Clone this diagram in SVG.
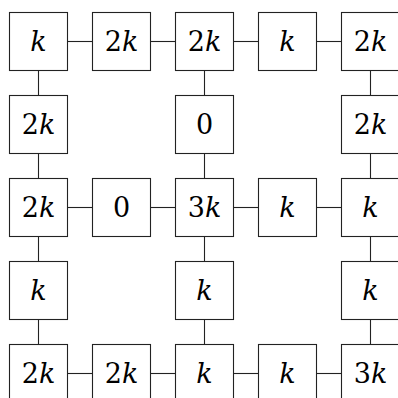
<svg xmlns="http://www.w3.org/2000/svg" width="398" height="398" viewBox="0 0 398 398">
<style>
.b{fill:#fff;stroke:#222;stroke-width:1.1}
line{stroke:#222;stroke-width:1.1}
text{font-family:'DejaVu Serif',serif;font-size:27px;text-anchor:middle;fill:#000}
.i{font-style:italic}
</style>
<rect width="398" height="398" fill="#fff"/>
<g id="connectors">
<line x1="67.5" y1="41.5" x2="92.5" y2="41.5"/>
<line x1="150.5" y1="41.5" x2="175.5" y2="41.5"/>
<line x1="233.5" y1="41.5" x2="258.5" y2="41.5"/>
<line x1="316.5" y1="41.5" x2="341.5" y2="41.5"/>
<line x1="67.5" y1="207.5" x2="92.5" y2="207.5"/>
<line x1="150.5" y1="207.5" x2="175.5" y2="207.5"/>
<line x1="233.5" y1="207.5" x2="258.5" y2="207.5"/>
<line x1="316.5" y1="207.5" x2="341.5" y2="207.5"/>
<line x1="67.5" y1="373.5" x2="92.5" y2="373.5"/>
<line x1="150.5" y1="373.5" x2="175.5" y2="373.5"/>
<line x1="233.5" y1="373.5" x2="258.5" y2="373.5"/>
<line x1="316.5" y1="373.5" x2="341.5" y2="373.5"/>
<line x1="38.5" y1="70.5" x2="38.5" y2="95.5"/>
<line x1="38.5" y1="153.5" x2="38.5" y2="178.5"/>
<line x1="38.5" y1="236.5" x2="38.5" y2="261.5"/>
<line x1="38.5" y1="319.5" x2="38.5" y2="344.5"/>
<line x1="204.5" y1="70.5" x2="204.5" y2="95.5"/>
<line x1="204.5" y1="153.5" x2="204.5" y2="178.5"/>
<line x1="204.5" y1="236.5" x2="204.5" y2="261.5"/>
<line x1="204.5" y1="319.5" x2="204.5" y2="344.5"/>
<line x1="370.5" y1="70.5" x2="370.5" y2="95.5"/>
<line x1="370.5" y1="153.5" x2="370.5" y2="178.5"/>
<line x1="370.5" y1="236.5" x2="370.5" y2="261.5"/>
<line x1="370.5" y1="319.5" x2="370.5" y2="344.5"/>
</g>
<g id="n00"><rect class="b" x="9.5" y="12.5" width="58" height="58"/><text x="38.5" y="50.5" class="i">k</text></g>
<g id="n01"><rect class="b" x="92.5" y="12.5" width="58" height="58"/><text x="121.5" y="50.5">2<tspan class="i">k</tspan></text></g>
<g id="n02"><rect class="b" x="175.5" y="12.5" width="58" height="58"/><text x="204.5" y="50.5">2<tspan class="i">k</tspan></text></g>
<g id="n03"><rect class="b" x="258.5" y="12.5" width="58" height="58"/><text x="287.5" y="50.5" class="i">k</text></g>
<g id="n04"><rect class="b" x="341.5" y="12.5" width="58" height="58"/><text x="370.5" y="50.5">2<tspan class="i">k</tspan></text></g>
<g id="n10"><rect class="b" x="9.5" y="95.5" width="58" height="58"/><text x="38.5" y="133.5">2<tspan class="i">k</tspan></text></g>
<g id="n12"><rect class="b" x="175.5" y="95.5" width="58" height="58"/><text x="204.5" y="133.5">0</text></g>
<g id="n14"><rect class="b" x="341.5" y="95.5" width="58" height="58"/><text x="370.5" y="133.5">2<tspan class="i">k</tspan></text></g>
<g id="n20"><rect class="b" x="9.5" y="178.5" width="58" height="58"/><text x="38.5" y="216.5">2<tspan class="i">k</tspan></text></g>
<g id="n21"><rect class="b" x="92.5" y="178.5" width="58" height="58"/><text x="121.5" y="216.5">0</text></g>
<g id="n22"><rect class="b" x="175.5" y="178.5" width="58" height="58"/><text x="204.5" y="216.5">3<tspan class="i">k</tspan></text></g>
<g id="n23"><rect class="b" x="258.5" y="178.5" width="58" height="58"/><text x="287.5" y="216.5" class="i">k</text></g>
<g id="n24"><rect class="b" x="341.5" y="178.5" width="58" height="58"/><text x="370.5" y="216.5" class="i">k</text></g>
<g id="n30"><rect class="b" x="9.5" y="261.5" width="58" height="58"/><text x="38.5" y="299.5" class="i">k</text></g>
<g id="n32"><rect class="b" x="175.5" y="261.5" width="58" height="58"/><text x="204.5" y="299.5" class="i">k</text></g>
<g id="n34"><rect class="b" x="341.5" y="261.5" width="58" height="58"/><text x="370.5" y="299.5" class="i">k</text></g>
<g id="n40"><rect class="b" x="9.5" y="344.5" width="58" height="58"/><text x="38.5" y="382.5">2<tspan class="i">k</tspan></text></g>
<g id="n41"><rect class="b" x="92.5" y="344.5" width="58" height="58"/><text x="121.5" y="382.5">2<tspan class="i">k</tspan></text></g>
<g id="n42"><rect class="b" x="175.5" y="344.5" width="58" height="58"/><text x="204.5" y="382.5" class="i">k</text></g>
<g id="n43"><rect class="b" x="258.5" y="344.5" width="58" height="58"/><text x="287.5" y="382.5" class="i">k</text></g>
<g id="n44"><rect class="b" x="341.5" y="344.5" width="58" height="58"/><text x="370.5" y="382.5">3<tspan class="i">k</tspan></text></g>
</svg>
